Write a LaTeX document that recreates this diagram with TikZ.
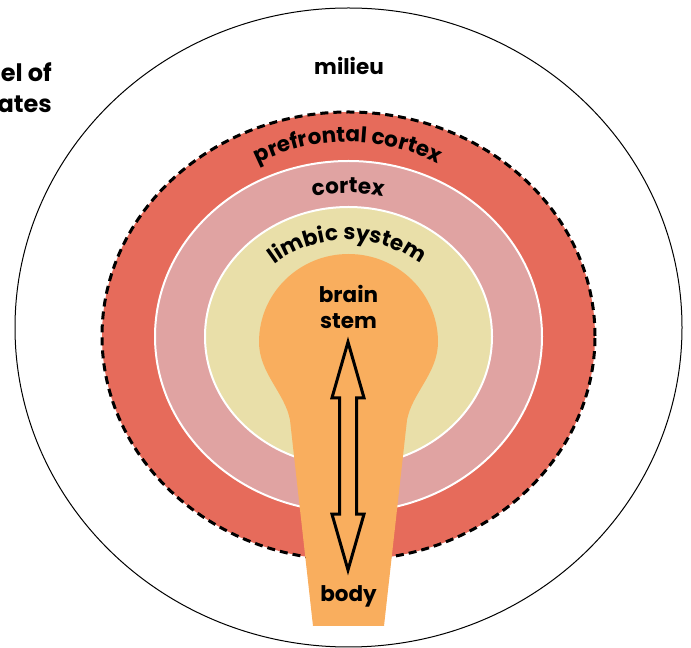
\documentclass[tikz,border=0pt]{standalone}
\usepackage{fontspec}
\setmainfont{Poppins}
\usetikzlibrary{arrows.meta, positioning, shapes.arrows, decorations.text}

\definecolor{prefrojo}{HTML}{E66B5B}
\definecolor{cortexrosa}{HTML}{E0A3A2}
\definecolor{limbicamarillo}{HTML}{E9DFA9}
\definecolor{tronconaranja}{HTML}{F9AE5E}

\tikzset{
  etiqueta/.style={font=\bfseries\fontsize{21.5}{26}\selectfont, text=black, inner sep=0pt},
  anillo/.style={draw=white, line width=2pt},
  arcotexto/.style={decoration={text along path, text align=center,
      text={|\bfseries\fontsize{21.5}{26}\selectfont|#1}}, decorate}
}

\begin{document}
\begin{tikzpicture}[x=1pt, y=1pt]
    \useasboundingbox (0,0) rectangle (691,648);

    % Medio exterior
    \draw[black, line width=1pt] (348.5,320.5) ellipse[x radius=333.5, y radius=319.5];

    % Anillos
    \draw[fill=prefrojo, draw=black, line width=3pt, dash pattern=on 8pt off 5pt]
        (348.5,312) ellipse[x radius=246.5, y radius=224];
    \draw[anillo, fill=cortexrosa] (348.5,311.5) ellipse[x radius=193.5, y radius=175.5];
    \draw[anillo, fill=limbicamarillo] (348.5,311.5) ellipse[x radius=143.5, y radius=129.5];

    % Tronco cerebral
    \fill[tronconaranja] (313,22) -- (290,228)
        .. controls (285,255) and (259,275) .. (259,306)
        arc[start angle=180, end angle=0, x radius=89.5, y radius=88]
        .. controls (438,275) and (412,255) .. (407,228) -- (384,22) -- cycle;

    % Textos curvos
    \path[arcotexto={prefrontal cortex}] (348,306) ++(140:200) arc[start angle=140, end angle=40, radius=200];
    \path[arcotexto={cortex}] (348,285) ++(130:170) arc[start angle=130, end angle=50, radius=170];
    \path[arcotexto={limbic system}] (347.5,286.5) ++(150:121.5) arc[start angle=150, end angle=30, radius=121.5];

    % Etiquetas
    \node[etiqueta, anchor=base] (milieu) at (349,573) {milieu};
    \node[etiqueta, align=center] (stem) at (348.5,341) {brain\\stem};
    \node[etiqueta, anchor=base] (body) at (348.5,46) {body};
    \node[etiqueta, font=\bfseries\fontsize{24}{30}\selectfont, anchor=base east] (elof) at (52,566) {el of};
    \node[etiqueta, font=\bfseries\fontsize{24}{30}\selectfont, anchor=base east] (ates) at (52,535) {ates};

    % Flecha doble
    \node[double arrow, draw=black, line width=3pt, fill=tronconaranja, rotate=90,
          minimum height=228pt, inner xsep=0pt, inner ysep=7pt,
          double arrow head extend=7.5pt, double arrow tip angle=32] (vaiven) at (348,192) {};
\end{tikzpicture}
\end{document}
